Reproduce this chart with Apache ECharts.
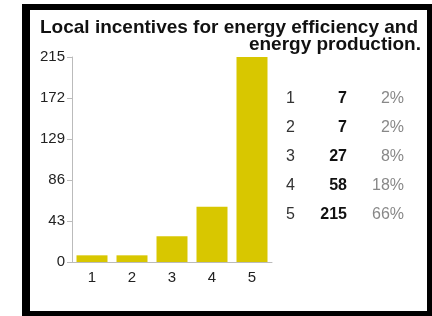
<!DOCTYPE html>
<html>
<head>
<meta charset="utf-8">
<script src="https://cdn.jsdelivr.net/npm/echarts@6/dist/echarts.min.js"></script>
<style>
  html, body { margin: 0; padding: 0; background: #fff; }
  #chartArea { position: absolute; left: 0; top: 0; width: 432px; height: 316px; }
  #frame {
    position: absolute; left: 22px; top: 4px; width: 410px; height: 312px;
    box-sizing: border-box; border-style: solid; border-color: #000;
    border-width: 6px 5px 5px 8px; pointer-events: none;
  }
</style>
</head>
<body>
<div id="chartArea"></div>
<div id="frame"></div>
<script>
// 数据
const categories = ['1', '2', '3', '4', '5'];
const counts = [7, 7, 27, 58, 215];
const percents = ['2%', '2%', '8%', '18%', '66%'];
const yTicks = [0, 43, 86, 129, 172, 215];

const chartDom = document.getElementById('chartArea');
const myChart = echarts.init(chartDom);

const barColor = '#d8c700';
const font = 'Arial, "Liberation Sans", sans-serif';

// 右侧表格
const tableTop = 99;
const rowStep = 29;
const table = [];
categories.forEach((c, i) => {
    const y = tableTop + i * rowStep;
    table.push({
        type: 'text', x: 286, y: y,
        style: { text: c, font: '16px ' + font, fill: '#333', align: 'left', verticalAlign: 'middle' }
    });
    table.push({
        type: 'text', x: 347, y: y,
        style: { text: String(counts[i]), font: 'bold 16px ' + font, fill: '#111', align: 'right', verticalAlign: 'middle' }
    });
    table.push({
        type: 'text', x: 404, y: y,
        style: { text: percents[i], font: '16px ' + font, fill: '#888', align: 'right', verticalAlign: 'middle' }
    });
});

const option = {
    animation: false,
    textStyle: { fontFamily: font },
    graphic: [
        {
            type: 'text', x: 229, y: 28,
            style: { text: 'Local incentives for energy efficiency and', font: 'bold 19px ' + font, fill: '#111', align: 'center', verticalAlign: 'middle' }
        },
        {
            type: 'text', x: 421, y: 45,
            style: { text: 'energy production.', font: 'bold 19px ' + font, fill: '#111', align: 'right', verticalAlign: 'middle' }
        }
    ].concat(table),
    grid: { left: 72, right: 160, top: 57, bottom: 54 },
    xAxis: {
        type: 'category',
        data: categories,
        axisLine: { lineStyle: { color: '#bbb' } },
        axisTick: { alignWithLabel: true, length: 5, lineStyle: { color: '#bbb' } },
        axisLabel: { color: '#222', fontSize: 15, margin: 8 }
    },
    yAxis: {
        type: 'value',
        min: yTicks[0],
        max: yTicks[yTicks.length - 1],
        interval: 43,
        splitLine: { show: false },
        axisLine: { show: true, lineStyle: { color: '#bbb' } },
        axisTick: { show: true, length: 5, lineStyle: { color: '#bbb' } },
        axisLabel: { color: '#222', fontSize: 15, margin: 7 }
    },
    series: [{
        type: 'bar',
        data: counts,
        barWidth: 31,
        itemStyle: { color: barColor }
    }]
};

myChart.setOption(option);
</script>
</body>
</html>
